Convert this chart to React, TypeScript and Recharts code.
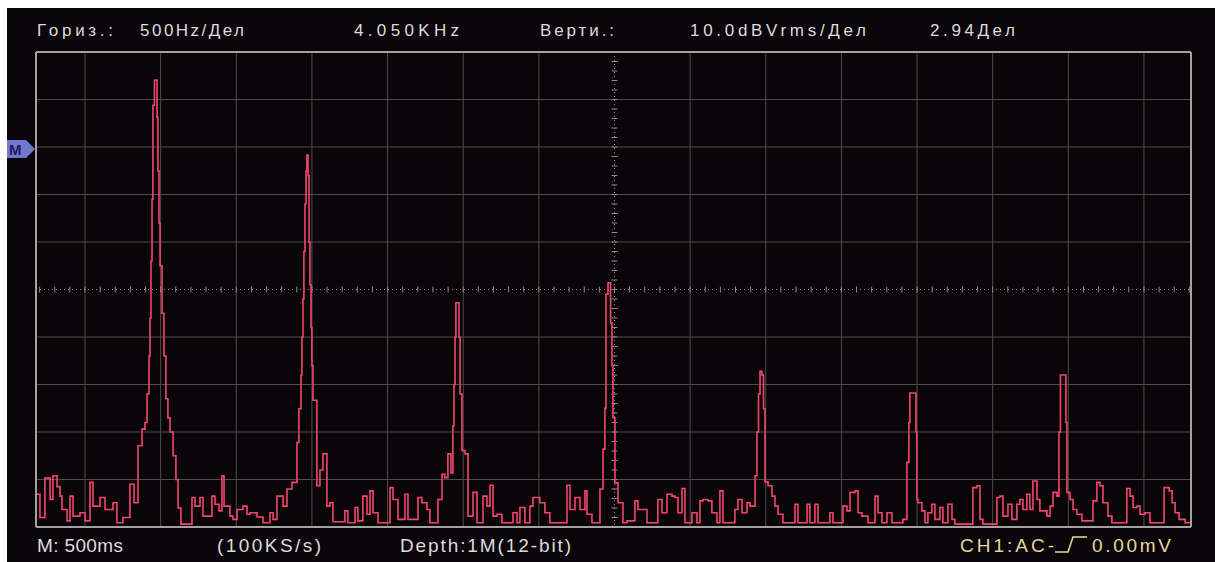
import React from 'react';
import { LineChart, Line, XAxis, YAxis, ReferenceLine } from 'recharts';

// horizontal: 500 Hz per division, centred on 4.050 kHz
const FREQ_MIN = 226;
const FREQ_MAX = 7861;
const FREQ_CENTER = 4050;
// vertical: 10 dBVrms per division, 10 divisions
const LEVEL_MIN = -100;
const LEVEL_MAX = 0;
const LEVEL_CENTER = -50;

const gridFreqs = [550, 1050, 1550, 2050, 2550, 3050, 3550, 4550, 5050, 5550, 6050, 6550, 7050, 7550];
const gridLevels = [-90, -80, -70, -60, -40, -30, -20, -10];
const minorFreqs = Array.from({ length: 77 }, (_, i) => 250 + i * 100);
const minorLevels = Array.from({ length: 49 }, (_, i) => -98 + i * 2);

const headerLabels = ['Гориз.:', '500Hz/Дел', '4.050KHz', 'Верти.:', '10.0dBVrms/Дел', '2.94Дел'];
const footerLabels = ['M: 500ms', '(100KS/s)', 'Depth:1M(12-bit)'];
const triggerLabels = ['CH1:AC-', '0.00mV'];

// [Hz, dBVrms]
const spectrum: [number, number][] = [
  [226, -93.1], [252, -98.0], [285, -89.7], [319, -94.2], [338, -89.2], [365, -91.5], [385, -93.5],
  [398, -96.3], [431, -98.7], [451, -93.5], [471, -97.7], [517, -97.0], [550, -98.7], [583, -90.6],
  [603, -95.6], [649, -93.8], [682, -96.3], [735, -94.9], [761, -99.1], [801, -98.0], [847, -91.0],
  [874, -94.9], [900, -82.9], [927, -79.4], [946, -78.0], [960, -72.0], [973, -64.0], [980, -56.0],
  [986, -44.0], [993, -31.0], [999, -11.2], [1009, -5.9], [1026, -13.7], [1032, -25.0], [1039, -36.0],
  [1046, -45.0], [1059, -55.0], [1072, -64.0], [1085, -73.0], [1098, -77.0], [1112, -80.0],
  [1132, -85.0], [1151, -90.0], [1165, -96.0], [1184, -99.4], [1257, -93.8], [1277, -95.6],
  [1310, -93.8], [1330, -97.7], [1389, -93.5], [1409, -95.2], [1436, -96.6], [1455, -89.2],
  [1469, -95.6], [1508, -97.7], [1528, -98.4], [1555, -96.3], [1594, -95.6], [1621, -97.3],
  [1641, -97.0], [1687, -97.9], [1727, -99.1], [1773, -97.0], [1793, -98.4], [1819, -93.5],
  [1859, -95.6], [1885, -92.0], [1918, -90.6], [1951, -82.2], [1964, -75.1], [1978, -68.0],
  [1984, -60.0], [1991, -52.0], [1997, -42.0], [2004, -32.0], [2011, -25.0], [2017, -21.7],
  [2024, -26.0], [2031, -40.0], [2037, -49.0], [2044, -58.0], [2050, -66.0], [2057, -73.3],
  [2083, -91.3], [2103, -88.0], [2123, -84.6], [2149, -95.6], [2169, -94.9], [2189, -98.9],
  [2268, -96.6], [2288, -99.1], [2335, -95.9], [2354, -98.7], [2387, -93.5], [2414, -97.3],
  [2434, -92.4], [2454, -97.0], [2487, -99.1], [2566, -91.7], [2586, -94.2], [2619, -98.4],
  [2665, -93.1], [2685, -98.4], [2751, -93.8], [2777, -94.9], [2810, -96.3], [2830, -99.1],
  [2883, -94.2], [2910, -88.9], [2929, -89.6], [2949, -84.6], [2969, -88.6], [2982, -78.7],
  [2989, -70.0], [2996, -60.0], [3002, -52.8], [3022, -60.0], [3029, -72.0], [3042, -83.9],
  [3062, -84.6], [3082, -97.7], [3115, -92.7], [3141, -99.1], [3181, -93.5], [3207, -95.6],
  [3227, -91.2], [3247, -97.7], [3273, -97.3], [3306, -99.1], [3379, -97.0], [3406, -99.1],
  [3425, -95.9], [3458, -99.1], [3491, -95.6], [3511, -93.8], [3557, -94.9], [3590, -97.0],
  [3623, -99.1], [3736, -91.2], [3756, -96.3], [3789, -93.8], [3822, -96.3], [3855, -92.4],
  [3868, -97.3], [3901, -99.1], [3954, -92.0], [3974, -83.6], [3987, -75.0], [3994, -51.0],
  [4007, -48.6], [4024, -57.0], [4033, -66.0], [4040, -77.0], [4053, -90.7], [4073, -94.9],
  [4106, -99.1], [4133, -98.7], [4185, -94.5], [4205, -96.3], [4238, -96.3], [4265, -99.1],
  [4337, -94.2], [4364, -97.0], [4397, -93.1], [4430, -93.5], [4450, -93.8], [4470, -97.0],
  [4496, -91.9], [4516, -99.1], [4562, -97.0], [4595, -99.1], [4615, -94.5], [4635, -94.2],
  [4668, -94.5], [4694, -97.0], [4727, -99.1], [4747, -92.4], [4767, -99.1], [4846, -96.3],
  [4866, -94.2], [4893, -97.0], [4926, -94.9], [4946, -95.6], [4979, -89.2], [4992, -80.0],
  [5002, -72.0], [5012, -67.2], [5025, -68.0], [5035, -75.1], [5045, -90.5], [5065, -91.3],
  [5091, -93.5], [5111, -95.6], [5131, -97.3], [5164, -99.1], [5243, -95.2], [5263, -99.1],
  [5323, -95.2], [5342, -99.1], [5375, -95.2], [5395, -99.1], [5474, -97.0], [5494, -99.1],
  [5560, -95.6], [5587, -96.6], [5607, -92.7], [5640, -92.4], [5660, -97.0], [5686, -97.7],
  [5726, -99.1], [5772, -93.5], [5792, -97.0], [5818, -99.1], [5851, -97.0], [5884, -99.1],
  [5957, -98.4], [5983, -86.4], [5996, -78.0], [6003, -71.8], [6043, -80.0], [6049, -94.2],
  [6056, -94.9], [6082, -96.6], [6102, -99.1], [6122, -97.0], [6148, -95.2], [6168, -98.4],
  [6201, -95.9], [6221, -99.1], [6254, -95.2], [6281, -98.4], [6300, -99.4], [6419, -91.7],
  [6446, -91.3], [6466, -98.4], [6486, -99.4], [6578, -93.8], [6598, -93.5], [6618, -97.7],
  [6651, -95.2], [6677, -98.4], [6710, -95.2], [6730, -94.2], [6750, -96.3], [6776, -93.1],
  [6796, -96.3], [6816, -90.3], [6843, -94.2], [6862, -96.6], [6909, -97.7], [6929, -95.6],
  [6949, -92.7], [6975, -93.5], [6988, -80.0], [6998, -68.0], [7034, -78.0], [7041, -92.7],
  [7061, -94.2], [7081, -96.3], [7107, -97.3], [7140, -98.7], [7213, -94.5], [7239, -90.6],
  [7259, -91.3], [7279, -94.9], [7312, -97.7], [7338, -99.1], [7437, -91.9], [7458, -93.5],
  [7478, -95.9], [7504, -95.6], [7524, -97.3], [7557, -97.0], [7590, -99.1], [7683, -91.7],
  [7717, -92.4], [7736, -94.9], [7756, -97.0], [7782, -98.4], [7822, -99.1], [7861, -99.1],
];

const data = spectrum.map(([hz, db]) => ({ hz, db }));

const BG = '#0a0508';
const FRAME = '#a3a3a3';
const GRID = '#4d4d4d';
const TRACE = '#f4456f';
const TEXT = '#dcdcdc';
const YELLOW = '#e8d79c';

const centerV = (p: any) => {
  const x = p.x1;
  const top = Math.min(p.y1, p.y2);
  const bot = Math.max(p.y1, p.y2);
  const marks = [];
  for (let i = 1; i < 50; i++) {
    const y = top + ((bot - top) * i) / 50;
    marks.push(<line key={i} x1={x - 3} x2={x + 3} y1={y} y2={y} />);
  }
  return (
    <g stroke="#8a8a8a" strokeWidth={1}>
      <line x1={x} x2={x} y1={top} y2={bot} strokeDasharray="1 3" />
      {marks}
    </g>
  );
};

const centerH = (p: any) => {
  const y = p.y1;
  const left = Math.min(p.x1, p.x2);
  const right = Math.max(p.x1, p.x2);
  const marks = minorFreqs.map((f) => {
    const x = left + ((f - FREQ_MIN) / (FREQ_MAX - FREQ_MIN)) * (right - left);
    return <line key={f} x1={x} x2={x} y1={y - 3} y2={y + 3} />;
  });
  return (
    <g stroke="#8a8a8a" strokeWidth={1}>
      <line x1={left} x2={right} y1={y} y2={y} strokeDasharray="1 3" />
      {marks}
    </g>
  );
};

const headerPos = [
  { x: 37, w: 76 },
  { x: 140, w: 104 },
  { x: 354, w: 105 },
  { x: 540, w: 74 },
  { x: 690, w: 176 },
  { x: 930, w: 85 },
];
const footerPos = [
  { x: 37, w: 86 },
  { x: 217, w: 104 },
  { x: 400, w: 171 },
];

export default function App() {
  return (
    <div style={{ position: 'absolute', left: 0, top: 0, width: 1215, height: 562, background: '#fff', overflow: 'hidden' }}>
      <div style={{ position: 'absolute', left: 7, top: 8, width: 1208, height: 554, background: BG }} />
      <div style={{ position: 'absolute', left: 31, top: 47 }}>
        <LineChart width={1165} height={485} data={data} margin={{ top: 5, right: 5, bottom: 5, left: 5 }}>
          <XAxis xAxisId="b" type="number" dataKey="hz" domain={[FREQ_MIN, FREQ_MAX]} allowDataOverflow
            orientation="bottom" mirror ticks={minorFreqs} tick={false} tickSize={5}
            axisLine={{ stroke: FRAME, strokeWidth: 2 }} tickLine={{ stroke: FRAME }} />
          <XAxis xAxisId="t" type="number" dataKey="hz" domain={[FREQ_MIN, FREQ_MAX]} allowDataOverflow
            orientation="top" mirror ticks={minorFreqs} tick={false} tickSize={5}
            axisLine={{ stroke: FRAME, strokeWidth: 2 }} tickLine={{ stroke: FRAME }} />
          <YAxis yAxisId="l" type="number" domain={[LEVEL_MIN, LEVEL_MAX]} allowDataOverflow
            orientation="left" mirror ticks={minorLevels} tick={false} tickSize={5}
            axisLine={{ stroke: FRAME, strokeWidth: 2 }} tickLine={{ stroke: FRAME }} />
          <YAxis yAxisId="r" type="number" domain={[LEVEL_MIN, LEVEL_MAX]} allowDataOverflow
            orientation="right" mirror ticks={minorLevels} tick={false} tickSize={5}
            axisLine={{ stroke: FRAME, strokeWidth: 2 }} tickLine={{ stroke: FRAME }} />
          {gridFreqs.map((f) => (
            <ReferenceLine key={'v' + f} x={f} xAxisId="b" yAxisId="l" stroke={GRID} strokeWidth={1} />
          ))}
          {gridLevels.map((l) => (
            <ReferenceLine key={'h' + l} y={l} xAxisId="b" yAxisId="l" stroke={GRID} strokeWidth={1} />
          ))}
          <ReferenceLine x={FREQ_CENTER} xAxisId="b" yAxisId="l" shape={centerV} />
          <ReferenceLine y={LEVEL_CENTER} xAxisId="b" yAxisId="l" shape={centerH} />
          <Line xAxisId="b" yAxisId="l" type="stepAfter" dataKey="db" stroke={TRACE} strokeWidth={1.6}
            dot={false} activeDot={false} isAnimationActive={false} />
        </LineChart>
      </div>
      <svg width={1215} height={562} style={{ position: 'absolute', left: 0, top: 0 }}
        fontFamily="'Liberation Sans', Arial, sans-serif">
        {headerLabels.map((t, i) => (
          <text key={t} x={headerPos[i].x} y={36} fontSize={17} fill={TEXT}
            textLength={headerPos[i].w} lengthAdjust="spacing">{t}</text>
        ))}
        {footerLabels.map((t, i) => (
          <text key={t} x={footerPos[i].x} y={552} fontSize={19} fill={TEXT}
            textLength={footerPos[i].w} lengthAdjust="spacing">{t}</text>
        ))}
        <text x={960} y={552} fontSize={19} fill={YELLOW} textLength={94} lengthAdjust="spacing">{triggerLabels[0]}</text>
        <path d="M1055,552 H1068 L1073,537 H1087" stroke={YELLOW} strokeWidth={1.6} fill="none" />
        <text x={1092} y={552} fontSize={19} fill={YELLOW} textLength={79} lengthAdjust="spacing">{triggerLabels[1]}</text>
        <path d="M7,140 H26 L35,149 L26,158 H7 Z" fill="#7278cc" />
        <text x={9} y={155} fontSize={15} fontWeight="bold" fill="#1c1c66">M</text>
      </svg>
    </div>
  );
}
